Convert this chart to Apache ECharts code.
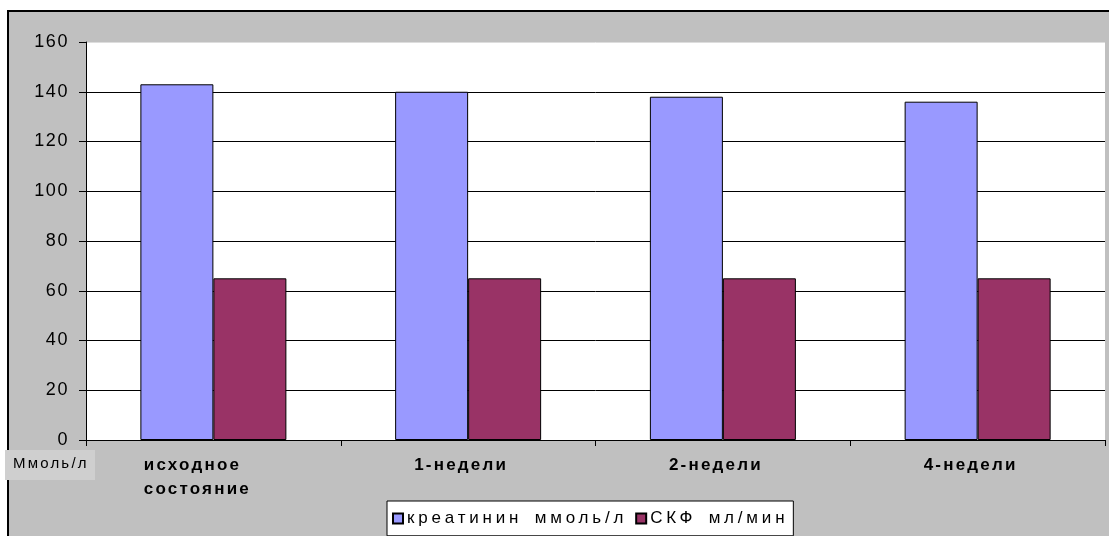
<!DOCTYPE html>
<html>
<head>
<meta charset="utf-8">
<script src="https://cdn.jsdelivr.net/npm/echarts@6/dist/echarts.min.js"></script>
<style>html,body{margin:0;padding:0;background:#fff;}#c{width:1109px;height:536px;}</style>
</head>
<body>
<div id="c"></div>
<script>
var categories = ['исходное\nсостояние', '1-недели', '2-недели', '4-недели'];
var creatinine = [143, 140, 138, 136];
var skf = [65, 65, 65, 65];
var seriesNames = ['креатинин ммоль/л', 'СКФ мл/мин'];
var yUnit = 'Ммоль/л';

// Wider glyph spacing, as in the reference rendering
(function () {
  var proto = CanvasRenderingContext2D.prototype;
  function sp(ctx) {
    var f = ctx.font || '';
    var s = '0px', w = '0px';
    if (/bold|700/.test(f)) s = '2.2px';
    else if (/\b18px/.test(f)) s = '1.6px';
    else if (/\b17px/.test(f)) { s = '3.8px'; w = '4px'; }
    else if (/\b15px/.test(f)) s = '2.2px';
    try { ctx.letterSpacing = s; ctx.wordSpacing = w; } catch (e) {}
  }
  var mt = proto.measureText;
  proto.measureText = function (t) { sp(this); return mt.call(this, t); };
  var ft = proto.fillText;
  proto.fillText = function () { sp(this); return ft.apply(this, arguments); };
})();

var chart = echarts.init(document.getElementById('c'));
var F = '"Liberation Sans", Arial, sans-serif';
chart.setOption({
  animation: false,
  backgroundColor: '#ffffff',
  graphic: [
    { type: 'rect', z: -10, shape: { x: 8, y: 11, width: 1110, height: 540 },
      style: { fill: '#C0C0C0', stroke: '#000', lineWidth: 2 } },
    { type: 'rect', z: 10, shape: { x: 5, y: 450, width: 90, height: 30 },
      style: { fill: '#CFCFCF' } },
    { type: 'text', z: 11, left: 13, top: 455,
      style: { text: yUnit, font: '15px ' + F, fill: '#000' } }
  ],
  grid: { left: 86, right: 4, top: 42, bottom: 96, show: true, backgroundColor: '#fff', borderWidth: 0 },
  legend: {
    left: 387, top: 501, orient: 'horizontal',
    backgroundColor: '#fff', borderColor: '#000', borderWidth: 1,
    padding: [7, 5, 7, 5], itemGap: 8, itemWidth: 10, itemHeight: 10, icon: 'rect',
    textStyle: { fontFamily: F, fontSize: 17, color: '#000', padding: [0, 0, 0, -1] },
    data: seriesNames
  },
  xAxis: {
    type: 'category', data: categories,
    axisLine: { lineStyle: { color: '#000', width: 1 } },
    axisTick: { show: true, length: 6, lineStyle: { color: '#000' } },
    axisLabel: {
      color: '#000', fontFamily: F, fontSize: 17, fontWeight: 'bold', margin: 13, lineHeight: 24,
      formatter: function (v, i) {
        var st = i === 0 ? 'b' : 'a';
        return v.split('\n').map(function (l) { return '{' + st + '|' + l + '}'; }).join('\n');
      },
      rich: {
        a: { fontFamily: F, fontSize: 17, fontWeight: 'bold', color: '#000', lineHeight: 24, align: 'left', padding: [0, 14, 0, 0] },
        b: { fontFamily: F, fontSize: 17, fontWeight: 'bold', color: '#000', lineHeight: 24, align: 'left', padding: [0, 32, 0, 0] }
      }
    }
  },
  yAxis: {
    type: 'value', min: 0, max: 160, interval: 20,
    axisLine: { show: true, lineStyle: { color: '#000', width: 1 } },
    axisTick: { show: true, length: 7, lineStyle: { color: '#000' } },
    axisLabel: { color: '#000', fontFamily: F, fontSize: 18, margin: 17 },
    splitLine: { show: true, lineStyle: { color: ['#000','#000','#000','#000','#000','#000','#000','#000','#dddddd'], width: 1 } }
  },
  series: [
    { name: seriesNames[0], type: 'bar', data: creatinine, barWidth: 73, barGap: '0%',
      itemStyle: { color: '#9999FF', borderColor: '#000', borderWidth: 1 } },
    { name: seriesNames[1], type: 'bar', data: skf, barWidth: 73, barGap: '0%',
      itemStyle: { color: '#993366', borderColor: '#000', borderWidth: 1 } }
  ]
});
</script>
</body>
</html>
